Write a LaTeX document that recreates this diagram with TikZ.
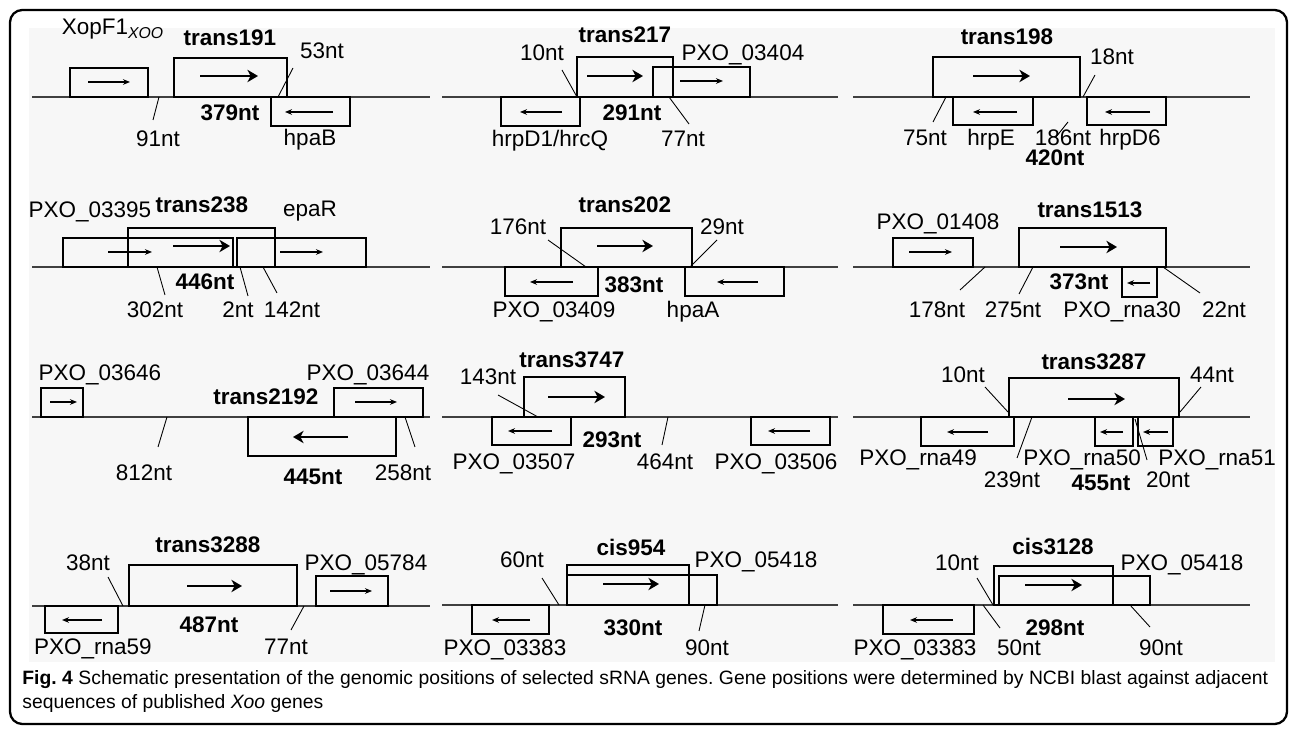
\documentclass[tikz,border=0pt]{standalone}
\usepackage{fontspec}
\setmainfont{Liberation Sans}
\newfontfamily\genefont{Liberation Sans}
\newcommand\glabfont{\genefont\fontsize{12.8}{15}\selectfont}
\newcommand\capfont{\genefont\fontsize{11}{13}\selectfont}
\usetikzlibrary{arrows.meta}
\frenchspacing

\begin{document}
\begin{tikzpicture}[x=0.02cm,y=-0.02cm,
  lbl/.style={font=\glabfont,inner sep=0pt,text height=9pt,text depth=0pt},
  blbl/.style={lbl,font=\glabfont\bfseries},
  axis/.style={line width=0.6pt,black!75},
  gene/.style={draw,line width=0.7pt},
  gbold/.style={draw,line width=1.1pt},
  srna/.style={draw,line width=1.5pt},
  garr/.style={-{Stealth[length=4pt,width=3.2pt]},line width=0.6pt},
  sarr/.style={-{Stealth[length=6pt,width=7pt,inset=1.8pt]},line width=1.6pt},
  lead/.style={line width=0.5pt}]
\useasboundingbox (0,0) rectangle (1295,739);
\fill[black!3] (29,28) rectangle (1275,662);
\draw[line width=1.3pt,rounded corners=7pt] (10,10) rectangle (1287,724);

\draw[axis] (32,97) -- (430,97);
\draw[gene] (70,68) rectangle (148,97);
\draw[garr] (88,82) -- (130,82);
\node[lbl] (xopf) at (113,27) {XopF1\textsubscript{\itshape XOO}};
\draw[srna] (174,58) rectangle (287,97);
\draw[sarr] (200,76) -- (258,76);
\node[blbl] (t191) at (230,38) {trans191};
\node[lbl] (a53) at (322,51) {53nt};
\draw[lead] (293,68) -- (278,97);
\draw[gene] (271,97) rectangle (350,126);
\draw[garr] (333,112) -- (285,112);
\node[lbl] (hpab) at (310,138) {hpaB};
\node[blbl] (s379) at (230,113) {379nt};
\node[lbl] (a91) at (158,139) {91nt};
\draw[lead] (159,97) -- (153,120);

\draw[axis] (442,97) -- (838,97);
\draw[srna] (577,57) rectangle (673,97);
\draw[sarr] (587,76) -- (643,76);
\node[blbl] (t217) at (625,35) {trans217};
\draw[gene] (653,67) rectangle (750,97);
\draw[garr] (680,81) -- (723,81);
\node[lbl] (p3404) at (743,53) {PXO\_03404};
\draw[gene] (501,97) rectangle (580,126);
\draw[garr] (562,112) -- (520,112);
\node[lbl] (hrpd1) at (550,139) {hrpD1/hrcQ};
\node[lbl] (b10) at (542,53) {10nt};
\draw[lead] (562,70) -- (577,97);
\node[blbl] (s291) at (632,113) {291nt};
\node[lbl] (b77) at (683,139) {77nt};
\draw[lead] (669,97) -- (689,124);

\draw[axis] (853,97) -- (1250,97);
\draw[srna] (933,57) rectangle (1080,97);
\draw[sarr] (973,76) -- (1030,76);
\node[blbl] (t198) at (1007,37) {trans198};
\node[lbl] (c18) at (1112,57) {18nt};
\draw[lead] (1095,75) -- (1083,97);
\draw[gene] (953,97) rectangle (1033,125);
\draw[garr] (1017,112) -- (973,112);
\node[lbl] (hrpe) at (991,138) {hrpE};
\node[lbl] (c75) at (925,138) {75nt};
\draw[lead] (946,97) -- (933,122);
\draw[gene] (1087,97) rectangle (1166,125);
\draw[garr] (1150,112) -- (1105,112);
\node[lbl] (hrpd6) at (1130,138) {hrpD6};
\node[lbl] (c186) at (1063,138) {186nt};
\draw[lead] (1068,122) -- (1056,137);
\node[blbl] (s420) at (1055,158) {420nt};

\draw[axis] (32,267) -- (430,267);
\draw[gbold] (63,238) rectangle (233,267);
\draw[garr] (108,252) -- (152,252);
\node[lbl] (p3395) at (90,210) {PXO\_03395};
\draw[srna] (128,228) rectangle (275,267);
\draw[sarr] (173,246) -- (230,246);
\node[blbl] (t238) at (202,205) {trans238};
\draw[gbold] (237,238) rectangle (366,267);
\draw[garr] (280,252) -- (323,252);
\node[lbl] (epar) at (310,209) {epaR};
\node[lbl] (d302) at (155,310) {302nt};
\draw[lead] (157,267) -- (165,295);
\node[blbl] (s446) at (205,282) {446nt};
\node[lbl] (d2) at (238,310) {2nt};
\draw[lead] (240,267) -- (248,296);
\node[lbl] (d142) at (292,310) {142nt};
\draw[lead] (263,267) -- (277,293);

\draw[axis] (442,267) -- (838,267);
\draw[srna] (561,228) rectangle (692,267);
\draw[sarr] (597,246) -- (653,246);
\node[blbl] (t202) at (625,205) {trans202};
\draw[gene] (505,267) rectangle (598,296);
\draw[garr] (573,282) -- (530,282);
\node[lbl] (p3409) at (554,310) {PXO\_03409};
\draw[gene] (685,267) rectangle (784,296);
\draw[garr] (758,282) -- (717,282);
\node[lbl] (hpaa) at (693,310) {hpaA};
\node[blbl] (s383) at (634,285) {383nt};
\node[lbl] (e176) at (518,227) {176nt};
\draw[lead] (548,240) -- (586,267);
\node[lbl] (e29) at (722,227) {29nt};
\draw[lead] (717,240) -- (690,267);

\draw[axis] (853,267) -- (1250,267);
\draw[gene] (893,238) rectangle (973,267);
\draw[garr] (909,252) -- (952,252);
\node[lbl] (p1408) at (938,222) {PXO\_01408};
\draw[srna] (1019,228) rectangle (1166,267);
\draw[sarr] (1060,247) -- (1117,247);
\node[blbl] (t1513) at (1090,210) {trans1513};
\draw[gene] (1122,267) rectangle (1157,297);
\draw[garr] (1150,283) -- (1127,283);
\node[lbl] (r30) at (1122,310) {PXO\_rna30};
\node[blbl] (s373) at (1079,282) {373nt};
\node[lbl] (f178) at (937,310) {178nt};
\draw[lead] (985,267) -- (960,290);
\node[lbl] (f275) at (1013,310) {275nt};
\draw[lead] (1033,267) -- (1019,294);
\node[lbl] (f22) at (1224,310) {22nt};
\draw[lead] (1163,267) -- (1200,293);

\draw[axis] (32,417) -- (430,417);
\draw[gene] (41,388) rectangle (83,417);
\draw[garr] (50,402) -- (77,402);
\node[lbl] (p3646) at (100,373) {PXO\_03646};
\draw[gene] (334,388) rectangle (423,417);
\draw[garr] (355,402) -- (397,402);
\node[lbl] (p3644) at (368,373) {PXO\_03644};
\draw[srna] (248,417) rectangle (396,456);
\draw[sarr] (348,437) -- (293,437);
\node[blbl] (t2192) at (266,397) {trans2192};
\node[blbl] (s445) at (313,477) {445nt};
\node[lbl] (g258) at (403,473) {258nt};
\draw[lead] (405,417) -- (415,447);
\node[lbl] (g812) at (144,473) {812nt};
\draw[lead] (167,417) -- (158,447);

\draw[axis] (442,417) -- (838,417);
\draw[srna] (524,377) rectangle (625,417);
\draw[sarr] (548,397) -- (605,397);
\node[blbl] (t3747) at (572,360) {trans3747};
\node[lbl] (h143) at (488,377) {143nt};
\draw[lead] (498,395) -- (538,417);
\draw[gene] (492,417) rectangle (571,445);
\draw[garr] (552,431) -- (508,431);
\node[lbl] (p3507) at (514,462) {PXO\_03507};
\node[blbl] (s293) at (612,440) {293nt};
\node[lbl] (h464) at (665,462) {464nt};
\draw[lead] (668,417) -- (662,445);
\draw[gene] (751,417) rectangle (830,445);
\draw[garr] (810,431) -- (768,431);
\node[lbl] (p3506) at (776,462) {PXO\_03506};

\draw[axis] (853,417) -- (1250,417);
\draw[srna] (1009,378) rectangle (1179,417);
\draw[sarr] (1068,399) -- (1125,399);
\node[blbl] (t3287) at (1094,362) {trans3287};
\node[lbl] (i10) at (963,375) {10nt};
\draw[lead] (985,387) -- (1008,412);
\node[lbl] (i44) at (1212,375) {44nt};
\draw[lead] (1201,387) -- (1180,412);
\draw[gene] (921,417) rectangle (1014,446);
\draw[garr] (988,432) -- (947,432);
\node[lbl] (r49) at (918,458) {PXO\_rna49};
\draw[gene] (1095,417) rectangle (1133,446);
\draw[garr] (1123,432) -- (1100,432);
\node[lbl] (r50) at (1082,458) {PXO\_rna50};
\draw[gene] (1138,417) rectangle (1173,446);
\draw[garr] (1168,432) -- (1143,432);
\node[lbl] (r51) at (1217,458) {PXO\_rna51};
\node[lbl] (i239) at (1012,480) {239nt};
\draw[lead] (1032,417) -- (1017,458);
\node[blbl] (s455) at (1101,483) {455nt};
\node[lbl] (i20) at (1168,480) {20nt};
\draw[lead] (1135,419) -- (1147,460);

\draw[axis] (32,606) -- (430,606);
\draw[srna] (129,565) rectangle (297,606);
\draw[sarr] (187,586) -- (242,586);
\node[blbl] (t3288) at (208,545) {trans3288};
\node[lbl] (j38) at (88,563) {38nt};
\draw[lead] (108,577) -- (123,606);
\draw[gene] (45,606) rectangle (118,633);
\draw[garr] (102,620) -- (62,620);
\node[lbl] (r59) at (93,647) {PXO\_rna59};
\node[blbl] (s487) at (209,625) {487nt};
\draw[gene] (316,576) rectangle (388,606);
\draw[garr] (330,591) -- (372,591);
\node[lbl] (p5784) at (366,563) {PXO\_05784};
\node[lbl] (j77) at (286,647) {77nt};
\draw[lead] (304,606) -- (291,630);

\draw[axis] (442,605) -- (838,605);
\draw[gbold] (567,565) rectangle (689,605);
\draw[srna] (567,575) rectangle (717,605);
\draw[sarr] (603,584) -- (659,584);
\node[blbl] (c954) at (631,548) {cis954};
\node[lbl] (p5418a) at (756,560) {PXO\_05418};
\node[lbl] (k60) at (522,560) {60nt};
\draw[lead] (542,578) -- (559,605);
\draw[gene] (472,605) rectangle (549,634);
\draw[garr] (530,620) -- (492,620);
\node[lbl] (p3383a) at (505,648) {PXO\_03383};
\node[blbl] (s330) at (633,628) {330nt};
\node[lbl] (k90) at (707,648) {90nt};
\draw[lead] (705,605) -- (699,631);

\draw[axis] (853,605) -- (1250,605);
\draw[gbold] (994,566) rectangle (1113,605);
\draw[srna] (999,576) rectangle (1150,605);
\draw[sarr] (1025,585) -- (1082,585);
\node[blbl] (c3128) at (1053,547) {cis3128};
\node[lbl] (p5418b) at (1182,563) {PXO\_05418};
\node[lbl] (m10) at (957,563) {10nt};
\draw[lead] (977,578) -- (993,605);
\draw[gene] (883,605) rectangle (974,634);
\draw[garr] (953,620) -- (910,620);
\node[lbl] (p3383b) at (915,648) {PXO\_03383};
\node[lbl] (m50) at (1019,648) {50nt};
\draw[lead] (983,605) -- (1000,628);
\node[blbl] (s298) at (1055,628) {298nt};
\node[lbl] (m90) at (1161,648) {90nt};
\draw[lead] (1130,605) -- (1150,627);

\node[anchor=base west,inner sep=0pt,font=\capfont] (cap1) at (22,684)
  {\makebox[24.92cm][s]{\textbf{Fig.~4} Schematic presentation of the genomic positions of selected sRNA genes. Gene positions were determined by NCBI blast against adjacent}};
\node[anchor=base west,inner sep=0pt,font=\capfont] (cap2) at (22,708)
  {sequences of published \textit{Xoo} genes};
\end{tikzpicture}
\end{document}
